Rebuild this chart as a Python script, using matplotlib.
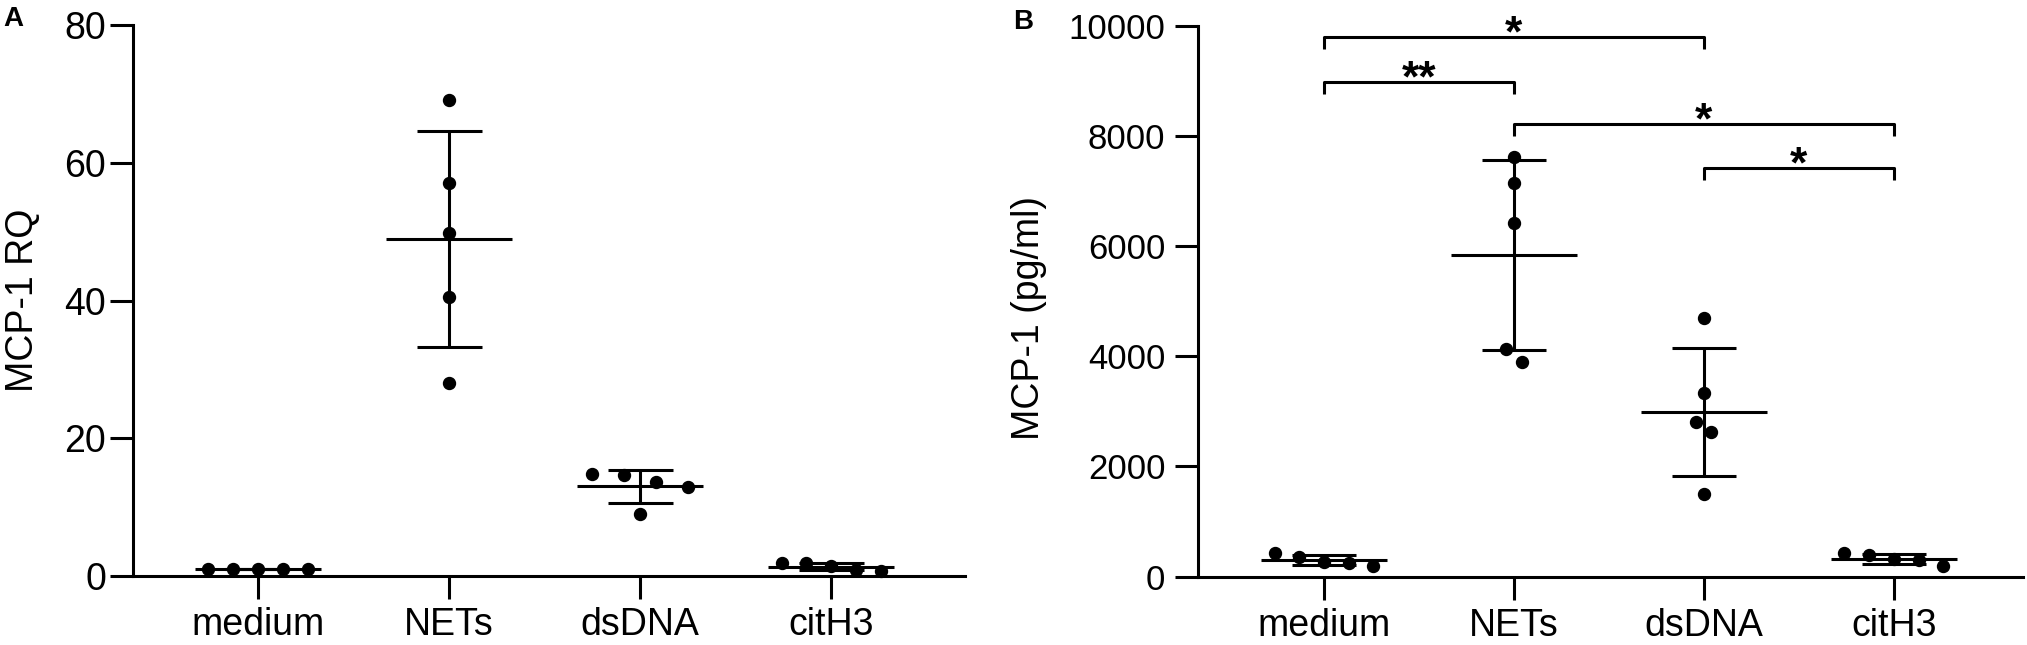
import numpy as np
import matplotlib.pyplot as plt

plt.rcParams['font.family'] = ['Liberation Sans', 'DejaVu Sans']

groups = ['medium', 'NETs', 'dsDNA', 'citH3']

# panel A: MCP-1 RQ, one dot per donor
rq_medium = [1.0, 1.0, 1.0, 1.0, 1.0]
rq_nets = [69.1, 57.1, 49.8, 40.6, 28.1]
rq_dsdna = [14.8, 14.7, 13.7, 13.0, 9.0]
rq_cith3 = [1.9, 1.9, 1.4, 0.9, 0.7]

# panel B: MCP-1 (pg/ml)
pg_medium = [421, 360, 258, 240, 191]
pg_nets = [7620, 7148, 6422, 4127, 3889]
pg_dsdna = [4688, 3328, 2803, 2632, 1495]
pg_cith3 = [432, 390, 312, 300, 196]

# significance brackets for panel B: (group i, group j, height, label)
sig_left = [0, 0, 1, 2]
sig_right = [2, 1, 3, 3]
sig_height = [9800, 8983, 8220, 7420]
sig_label = ['*', '**', '*', '*']

# horizontal spread of the dots inside each column (layout only)
row = [-0.26, -0.13, 0.0, 0.13, 0.26]
spread_a = [row, [0, 0, 0, 0, 0], [-0.25, -0.085, 0.085, 0.25, 0], row]
spread_b = [row, [0, 0, 0, -0.04, 0.04], [0, 0, -0.04, 0.04, 0], row]

LW = 2.2
W = 2027 / 100.0
H = 645 / 100.0
fig = plt.figure(figsize=(W, H), dpi=100)


def px_axes(x0, x1, y_top, y_bot):
    return fig.add_axes([x0 / 2027, 1 - y_bot / 645, (x1 - x0) / 2027, (y_bot - y_top) / 645])


def scatter_panel(ax, data, spread):
    for i, vals in enumerate(data):
        vals = np.array(vals, dtype=float)
        m = vals.mean()
        sd = vals.std(ddof=1)
        ax.hlines(m, i - 0.33, i + 0.33, color='black', lw=LW, zorder=2)
        ax.vlines(i, m - sd, m + sd, color='black', lw=LW, zorder=2)
        ax.hlines([m - sd, m + sd], i - 0.17, i + 0.17, color='black', lw=LW, zorder=2)
        ax.plot(i + np.array(spread[i]), vals, 'o', color='black', ms=8.6,
                mec='black', zorder=3, clip_on=False)


def style(ax, ytick_size, ypad):
    ax.spines['top'].set_visible(False)
    ax.spines['right'].set_visible(False)
    ax.spines['left'].set_linewidth(LW)
    ax.spines['bottom'].set_linewidth(LW)
    ax.set_xticks(range(len(groups)))
    ax.set_xticklabels(groups)
    ax.tick_params(axis='both', length=16.5, width=LW, color='black')
    ax.tick_params(axis='x', labelsize=27, pad=6)
    ax.tick_params(axis='y', labelsize=ytick_size, pad=ypad)


# ---- panel A
ax1 = px_axes(133, 965, 25.3, 576)
scatter_panel(ax1, [rq_medium, rq_nets, rq_dsdna, rq_cith3], spread_a)
ax1.set_xlim(-0.654, 3.70)
ax1.set_ylim(0, 80)
ax1.set_yticks([0, 20, 40, 60, 80])
style(ax1, 27, 3)
ax1.set_ylabel('MCP-1 RQ', fontsize=27)
ax1.yaxis.set_label_coords(-0.110, 0.5)

# ---- panel B
ax2 = px_axes(1198, 2023, 26, 576.5)
scatter_panel(ax2, [pg_medium, pg_nets, pg_dsdna, pg_cith3], spread_b)
ax2.set_xlim(-0.663, 3.68)
ax2.set_ylim(0, 10000)
ax2.set_yticks([0, 2000, 4000, 6000, 8000, 10000])
style(ax2, 25, 7)
ax2.set_ylabel('MCP-1 (pg/ml)', fontsize=27)
ax2.yaxis.set_label_coords(-0.183, 0.47)

# brackets with stars
drop = 220
for a, b, h, lab in zip(sig_left, sig_right, sig_height, sig_label):
    ax2.plot([a, a, b, b], [h - drop, h, h, h - drop], color='black', lw=LW,
             solid_capstyle='butt', clip_on=False)
    ax2.annotate(lab, xy=((a + b) / 2, h), xytext=(0, -6.5), textcoords='offset points',
                 ha='center', va='baseline', fontsize=32, fontweight='bold',
                 annotation_clip=False)

fig.text(3 / 2027, 1 - 6 / 645, 'A', fontsize=20, fontweight='bold', va='top', ha='left')
fig.text(1013 / 2027, 1 - 9 / 645, 'B', fontsize=20, fontweight='bold', va='top', ha='left')

fig.savefig('out.png', dpi=100)
